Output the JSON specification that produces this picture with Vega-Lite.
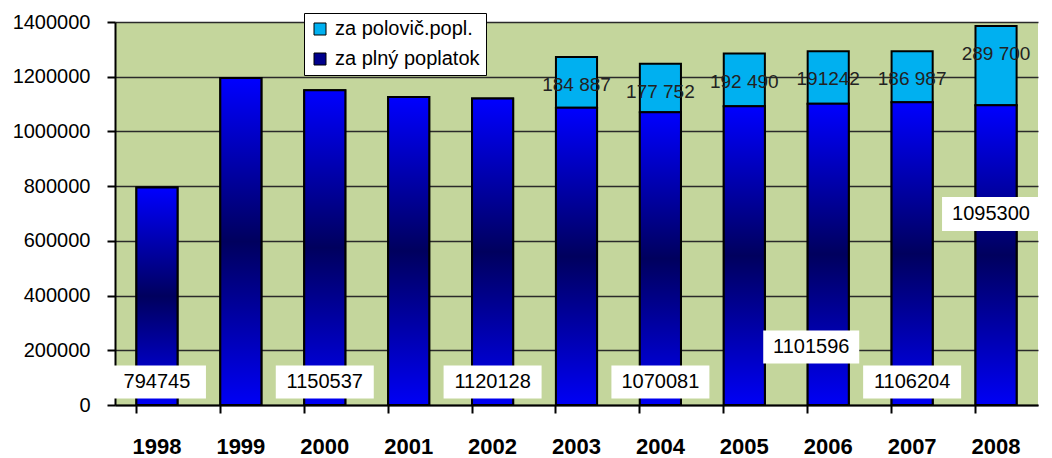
{
  "$schema": "https://vega.github.io/schema/vega-lite/v6.json",
  "autosize": {"type": "none"},
  "padding": {"left": 115, "top": 22, "right": 12, "bottom": 53},
  "width": 923,
  "height": 383,
  "background": "white",
  "config": {
    "view": {"fill": "#C4D69C", "stroke": null},
    "font": "Liberation Sans",
    "axis": {"domainColor": "black", "tickColor": "black", "labelColor": "black", "gridColor": "#2a2a2a", "gridWidth": 1.5, "domainWidth": 2, "tickWidth": 2}
  },
  "data": {
    "values": [
      {"year": "1998", "type": "za plný poplatok", "value": 794745, "label": "794745"},
      {"year": "1999", "type": "za plný poplatok", "value": 1195000, "label": ""},
      {"year": "2000", "type": "za plný poplatok", "value": 1150537, "label": "1150537"},
      {"year": "2001", "type": "za plný poplatok", "value": 1126000, "label": ""},
      {"year": "2002", "type": "za plný poplatok", "value": 1120128, "label": "1120128"},
      {"year": "2003", "type": "za plný poplatok", "value": 1087000, "label": ""},
      {"year": "2004", "type": "za plný poplatok", "value": 1070081, "label": "1070081"},
      {"year": "2005", "type": "za plný poplatok", "value": 1092000, "label": ""},
      {"year": "2006", "type": "za plný poplatok", "value": 1101596, "label": "1101596"},
      {"year": "2007", "type": "za plný poplatok", "value": 1106204, "label": "1106204"},
      {"year": "2008", "type": "za plný poplatok", "value": 1095300, "label": "1095300"},
      {"year": "2003", "type": "za polovič.popl.", "value": 184887, "label": "184 887"},
      {"year": "2004", "type": "za polovič.popl.", "value": 177752, "label": "177 752"},
      {"year": "2005", "type": "za polovič.popl.", "value": 192490, "label": "192 490"},
      {"year": "2006", "type": "za polovič.popl.", "value": 191242, "label": "191242"},
      {"year": "2007", "type": "za polovič.popl.", "value": 186987, "label": "186 987"},
      {"year": "2008", "type": "za polovič.popl.", "value": 289700, "label": "289 700"}
    ]
  },
  "transform": [
    {"stack": "value", "groupby": ["year"], "sort": [{"field": "type", "order": "ascending"}], "as": ["v0", "v1"]}
  ],
  "encoding": {
    "x": {
      "field": "year", "type": "nominal", "title": null,
      "scale": {"paddingInner": 0.51, "paddingOuter": 0.255},
      "axis": {"labelAngle": 0, "labelFontSize": 22, "labelFontWeight": "bold", "labelPadding": 23, "tickSize": 8, "bandPosition": 0, "grid": false}
    }
  },
  "layer": [
    {
      "mark": {"type": "bar", "stroke": "black", "strokeWidth": 2},
      "encoding": {
        "y": {
          "field": "v1", "type": "quantitative", "title": null,
          "scale": {"domain": [0, 1400000], "nice": false},
          "axis": {"values": [0, 200000, 400000, 600000, 800000, 1000000, 1200000, 1400000], "format": "d", "labelFontSize": 20, "labelPadding": 17, "tickSize": 8, "grid": true}
        },
        "y2": {"field": "v0"},
        "fill": {
          "field": "type", "type": "nominal",
          "scale": {"domain": ["za polovič.popl.", "za plný poplatok"], "range": ["#00B0F0", "#00008C"]},
          "legend": {
            "title": null, "orient": "none", "legendX": 189, "legendY": -9,
            "fillColor": "white", "strokeColor": "black", "padding": 6,
            "symbolType": "square", "symbolSize": 144, "symbolStrokeColor": "black", "symbolStrokeWidth": 1,
            "labelFontSize": 20, "labelColor": "black", "rowPadding": 10, "labelOffset": 5
          }
        }
      }
    },
    {
      "transform": [{"filter": "datum.type === 'za plný poplatok'"}],
      "mark": {
        "type": "bar", "stroke": "black", "strokeWidth": 2,
        "fill": {"gradient": "linear", "x1": 0, "y1": 0, "x2": 0, "y2": 1,
          "stops": [{"offset": 0, "color": "#0000FF"}, {"offset": 0.5, "color": "#00005E"}, {"offset": 1, "color": "#0000F5"}]}
      },
      "encoding": {
        "y": {"field": "v1", "type": "quantitative"},
        "y2": {"field": "v0"}
      }
    },
    {
      "transform": [{"filter": "datum.type === 'za polovič.popl.'"}],
      "mark": {"type": "text", "fontSize": 19, "color": "#222222", "dy": 28, "baseline": "middle"},
      "encoding": {
        "y": {"field": "v1", "type": "quantitative"},
        "text": {"field": "label"}
      }
    },
    {
      "transform": [{"filter": "datum.type === 'za plný poplatok' && datum.label !== '' && datum.year !== '2006' && datum.year !== '2008'"}],
      "layer": [
        {"mark": {"type": "bar", "fill": "white", "width": 98}, "encoding": {"y": {"datum": 24000, "type": "quantitative"}, "y2": {"datum": 144000}}},
        {"mark": {"type": "text", "fontSize": 20, "color": "black", "baseline": "middle"}, "encoding": {"y": {"datum": 84000, "type": "quantitative"}, "text": {"field": "label"}}}
      ]
    },
    {
      "transform": [{"filter": "datum.type === 'za plný poplatok' && datum.year === '2006'"}],
      "layer": [
        {"mark": {"type": "bar", "fill": "white", "width": 96, "xOffset": -17}, "encoding": {"y": {"datum": 152000, "type": "quantitative"}, "y2": {"datum": 272000}}},
        {"mark": {"type": "text", "fontSize": 20, "color": "black", "baseline": "middle", "dx": -17}, "encoding": {"y": {"datum": 212000, "type": "quantitative"}, "text": {"field": "label"}}}
      ]
    },
    {
      "transform": [{"filter": "datum.type === 'za plný poplatok' && datum.year === '2008'"}],
      "layer": [
        {"mark": {"type": "bar", "fill": "white", "width": 98, "xOffset": -5}, "encoding": {"y": {"datum": 636000, "type": "quantitative"}, "y2": {"datum": 760000}}},
        {"mark": {"type": "text", "fontSize": 20, "color": "black", "baseline": "middle", "dx": -5}, "encoding": {"y": {"datum": 698000, "type": "quantitative"}, "text": {"field": "label"}}}
      ]
    }
  ]
}
